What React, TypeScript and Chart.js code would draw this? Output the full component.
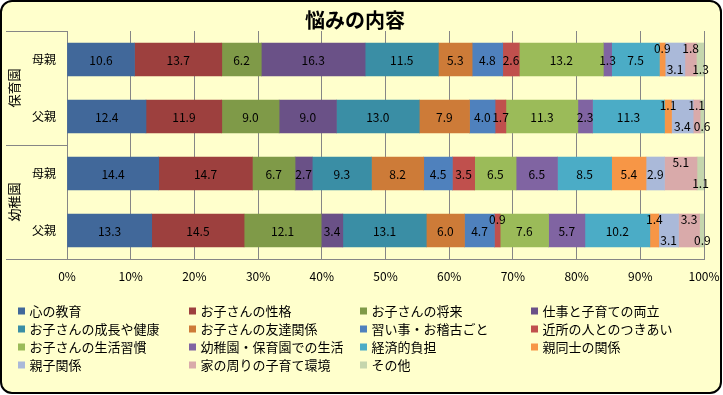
import React, { useEffect, useRef } from "react";
import { Chart, registerables } from "chart.js";

Chart.register(...registerables);

const chartTitle = "悩みの内容";
const groupLabels = ["保育園", "幼稚園"];
const categories = ["母親", "父親", "母親", "父親"];

const seriesNames = [
  "心の教育",
  "お子さんの性格",
  "お子さんの将来",
  "仕事と子育ての両立",
  "お子さんの成長や健康",
  "お子さんの友達関係",
  "習い事・お稽古ごと",
  "近所の人とのつきあい",
  "お子さんの生活習慣",
  "幼稚園・保育園での生活",
  "経済的負担",
  "親同士の関係",
  "親子関係",
  "家の周りの子育て環境",
  "その他",
];

const kokoro = [10.6, 12.4, 14.4, 13.3];
const seikaku = [13.7, 11.9, 14.7, 14.5];
const shorai = [6.2, 9.0, 6.7, 12.1];
const ryoritsu = [16.3, 9.0, 2.7, 3.4];
const seicho = [11.5, 13.0, 9.3, 13.1];
const tomodachi = [5.3, 7.9, 8.2, 6.0];
const naraigoto = [4.8, 4.0, 4.5, 4.7];
const kinjo = [2.6, 1.7, 3.5, 0.9];
const shukan = [13.2, 11.3, 6.5, 7.6];
const enSeikatsu = [1.3, 2.3, 6.5, 5.7];
const keizai = [7.5, 11.3, 8.5, 10.2];
const oyaDoshi = [0.9, 1.1, 5.4, 1.4];
const oyako = [3.1, 3.4, 2.9, 3.1];
const kankyo = [1.8, 1.1, 5.1, 3.3];
const sonota = [1.3, 0.6, 1.1, 0.9];

const seriesValues = [
  kokoro, seikaku, shorai, ryoritsu, seicho, tomodachi, naraigoto, kinjo,
  shukan, enSeikatsu, keizai, oyaDoshi, oyako, kankyo, sonota,
];

const xTickValues = [0, 10, 20, 30, 40, 50, 60, 70, 80, 90, 100];

// styles
const colors = [
  "#41689A", "#9D403E", "#7F9A48", "#6A5187", "#3A8EA5", "#CD7B38",
  "#4F81BD", "#C0504D", "#9BBB59", "#8064A2", "#4BACC6", "#F79646",
  "#AAB9D9", "#D9AAAA", "#C5D6AD",
];
// label vertical placement per series per row: c = center, t = above, b = below
const labelPlacement: string[][] = [
  ["c", "c", "c", "c"], ["c", "c", "c", "c"], ["c", "c", "c", "c"], ["c", "c", "c", "c"],
  ["c", "c", "c", "c"], ["c", "c", "c", "c"], ["c", "c", "c", "c"], ["c", "c", "c", "t"],
  ["c", "c", "c", "c"], ["c", "c", "c", "c"], ["c", "c", "c", "c"], ["t", "t", "c", "t"],
  ["b", "b", "c", "b"], ["t", "t", "t", "t"], ["b", "b", "b", "b"],
];
const placeOffset: Record<string, number> = { c: 0, t: -11.5, b: 9 };

const FONT = "'Noto Sans CJK JP', 'Noto Sans', sans-serif";
const GRID = "#868686";
const BG = "#FFFFCC";

function roundRect(ctx: CanvasRenderingContext2D, x: number, y: number, w: number, h: number, r: number) {
  ctx.beginPath();
  ctx.moveTo(x + r, y);
  ctx.lineTo(x + w - r, y);
  ctx.arcTo(x + w, y, x + w, y + r, r);
  ctx.lineTo(x + w, y + h - r);
  ctx.arcTo(x + w, y + h, x + w - r, y + h, r);
  ctx.lineTo(x + r, y + h);
  ctx.arcTo(x, y + h, x, y + h - r, r);
  ctx.lineTo(x, y + r);
  ctx.arcTo(x, y, x + r, y, r);
  ctx.closePath();
}

const decorPlugin = {
  id: "decor",
  beforeDraw(chart: any) {
    const ctx = chart.ctx as CanvasRenderingContext2D;
    ctx.save();
    ctx.fillStyle = "#ffffff";
    ctx.fillRect(0, 0, chart.width, chart.height);
    roundRect(ctx, 1, 1, chart.width - 3, chart.height - 3, 11);
    ctx.fillStyle = BG;
    ctx.fill();
    ctx.restore();
  },
  afterDatasetsDraw(chart: any) {
    const ctx = chart.ctx as CanvasRenderingContext2D;
    ctx.save();
    ctx.font = `12px ${FONT}`;
    ctx.fillStyle = "#000";
    ctx.textAlign = "center";
    ctx.textBaseline = "middle";
    chart.data.datasets.forEach((ds: any, di: number) => {
      const meta = chart.getDatasetMeta(di);
      meta.data.forEach((bar: any, i: number) => {
        const v = ds.data[i];
        const cx = (bar.x + bar.base) / 2;
        const cy = bar.y + placeOffset[labelPlacement[di][i]];
        ctx.fillText(v.toFixed(1), cx, cy + 0.5);
      });
    });
    ctx.restore();
  },
  afterDraw(chart: any) {
    const ctx = chart.ctx as CanvasRenderingContext2D;
    const area = chart.chartArea;
    const yScale = chart.scales.y;
    ctx.save();
    // title
    ctx.font = `bold 20px ${FONT}`;
    ctx.fillStyle = "#000";
    ctx.textAlign = "center";
    ctx.textBaseline = "middle";
    ctx.fillText(chartTitle, 355, 20);

    // category area lines
    ctx.strokeStyle = GRID;
    ctx.lineWidth = 1;
    const p0 = yScale.getPixelForValue(0);
    const p1 = yScale.getPixelForValue(1);
    const p2 = yScale.getPixelForValue(2);
    const p3 = yScale.getPixelForValue(3);
    const mid = Math.round((p1 + p2) / 2) + 0.5;
    const ys = [Math.round(area.top) + 0.5, mid, Math.round(area.bottom) + 0.5];
    ys.forEach((y) => {
      ctx.beginPath();
      ctx.moveTo(6, y);
      ctx.lineTo(area.left, y);
      ctx.stroke();
    });

    // group labels (rotated)
    ctx.font = `13px ${FONT}`;
    ctx.fillStyle = "#000";
    const centers = [(p0 + p1) / 2, (p2 + p3) / 2];
    groupLabels.forEach((g, gi) => {
      ctx.save();
      ctx.translate(14, centers[gi]);
      ctx.rotate(-Math.PI / 2);
      ctx.textAlign = "center";
      ctx.textBaseline = "middle";
      ctx.fillText(g, 0, 0);
      ctx.restore();
    });

    // legend
    ctx.font = `13px ${FONT}`;
    ctx.textAlign = "left";
    ctx.textBaseline = "middle";
    chart.data.datasets.forEach((ds: any, i: number) => {
      const col = i % 4;
      const row = Math.floor(i / 4);
      const x = 18 + col * 171;
      const y = 311 + row * 18;
      ctx.fillStyle = ds.backgroundColor;
      ctx.fillRect(x, y - 3.5, 7, 7);
      ctx.fillStyle = "#000";
      ctx.fillText(ds.label, x + 11.5, y + 0.5);
    });

    // outer border
    roundRect(ctx, 1, 1, chart.width - 3, chart.height - 3, 11);
    ctx.strokeStyle = "#000";
    ctx.lineWidth = 2;
    ctx.stroke();
    ctx.restore();
  },
};

export default function App() {
  const canvasRef = useRef<HTMLCanvasElement | null>(null);

  useEffect(() => {
    document.body.style.margin = "0";
    const canvas = canvasRef.current;
    if (!canvas) return;
    const chart = new Chart(canvas, {
      type: "bar",
      data: {
        labels: categories,
        datasets: seriesNames.map((name, i) => ({
          label: name,
          data: seriesValues[i],
          backgroundColor: colors[i],
          borderWidth: 0,
          barThickness: 33,
        })),
      },
      options: {
        indexAxis: "y",
        responsive: false,
        animation: false,
        devicePixelRatio: 1,
        layout: { padding: { top: 31, right: 19, left: 0, bottom: 0 } },
        plugins: {
          legend: { display: false },
          title: { display: false },
          tooltip: { enabled: false },
        },
        scales: {
          x: {
            stacked: true,
            min: 0,
            max: 100,
            afterBuildTicks: (scale: any) => {
              scale.ticks = xTickValues.map((v) => ({ value: v }));
            },
            ticks: {
              callback: (v: any) => `${v}%`,
              font: { family: FONT, size: 12 },
              color: "#000",
              padding: 10,
              maxRotation: 0,
              autoSkip: false,
            },
            grid: { color: GRID, drawTicks: false, lineWidth: 1 },
            border: { color: GRID, width: 1 },
            afterFit: (scale: any) => {
              scale.height = 136;
              scale.paddingLeft = 0;
              scale.paddingRight = 0;
            },
          },
          y: {
            stacked: true,
            ticks: {
              font: { family: FONT, size: 12 },
              color: "#000",
              padding: 11,
            },
            grid: { display: false, drawTicks: false },
            border: { color: GRID, width: 1 },
            afterFit: (scale: any) => {
              scale.width = 67;
              scale.paddingTop = 0;
              scale.paddingBottom = 0;
            },
          },
        },
      },
      plugins: [decorPlugin],
    });
    return () => chart.destroy();
  }, []);

  return (
    <div style={{ position: "absolute", left: 0, top: 0, width: 723, height: 395 }}>
      <canvas ref={canvasRef} width={723} height={395} style={{ width: 723, height: 395, display: "block" }} />
    </div>
  );
}
